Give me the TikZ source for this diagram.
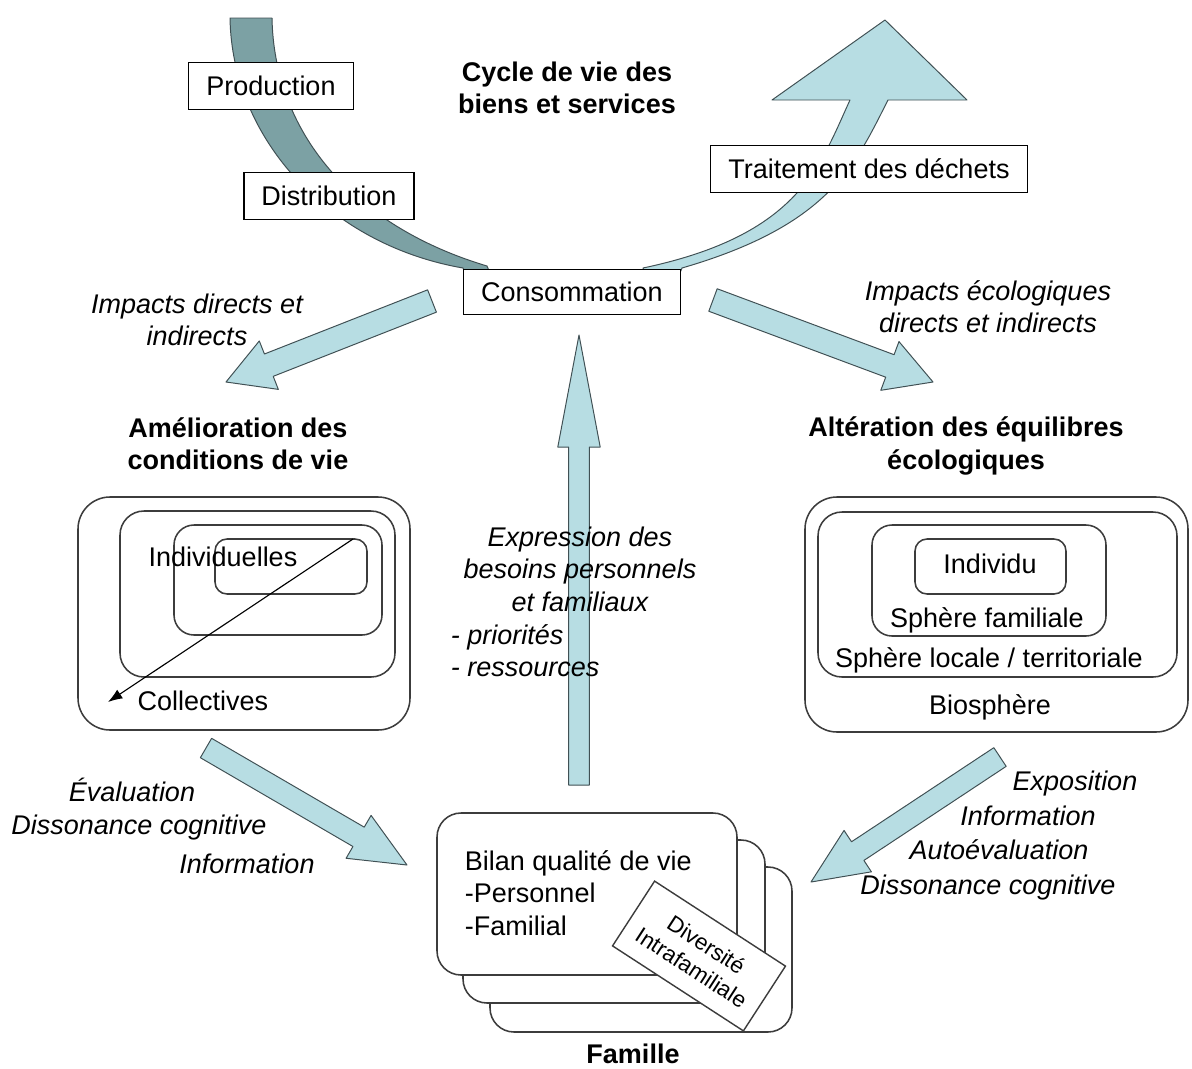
\documentclass[tikz,border=0pt]{standalone}
\usepackage{fontspec}
\setmainfont{Liberation Sans}
\usetikzlibrary{arrows.meta,calc,positioning}
\definecolor{cyclelight}{RGB}{183,221,227}
\definecolor{cycledark}{RGB}{124,161,164}
\definecolor{arrowedge}{RGB}{64,80,84}
\definecolor{frameline}{RGB}{60,60,60}
\newcommand{\diagfont}{\fontsize{19.2}{23}\selectfont}
\newcommand{\fatarrow}[5]{%
  \filldraw[fatarrow] ($(#1)!#3!90:(#2)$) -- ($(#2)!#5!(#1)!#3!-90:(#1)$)
    -- ($(#2)!#5!(#1)!#4!-90:(#1)$) -- (#2) -- ($(#2)!#5!(#1)!#4!90:(#1)$)
    -- ($(#2)!#5!(#1)!#3!90:(#1)$) -- ($(#1)!#3!-90:(#2)$) -- cycle;}
\tikzset{
  cyclebox/.style={draw,fill=white,line width=0.9pt,inner xsep=0.44cm,minimum height=1.18cm},
  fatarrow/.style={fill=cyclelight,draw=arrowedge,line width=0.7pt,line join=round},
  band/.style={draw=arrowedge,line width=0.7pt,line join=round},
  sphere/.style={draw=frameline,line width=1.1pt,rounded corners=#1},
  sphere/.default=0.5cm,
  famcard/.style={draw=frameline,fill=white,line width=1.1pt,rounded corners=0.6cm},
  title/.style={font=\diagfont\bfseries,align=center},
  note/.style={font=\diagfont\itshape,align=center}
}

\begin{document}
\begin{tikzpicture}[x=0.025cm,y=-0.025cm,>=Latex,font=\diagfont]
    \useasboundingbox (0,0) rectangle (1192,1068);
    \filldraw[band,fill=cycledark] (230,18) .. controls (232,140) and (330,245) .. (463,268)
      -- (470,285) -- (495,285) -- (487,266) .. controls (350,225) and (274,130) .. (272,18) -- cycle;
    \filldraw[band,fill=cyclelight] (643,268) .. controls (800,235) and (820,165) .. (850,100)
      -- (772,100) -- (885,20) -- (967,100) -- (888,100)
      .. controls (855,165) and (830,225) .. (682,268) -- (675,285) -- (648,285) -- cycle;
    \node[cyclebox] (prod) at (271,86) {Production};
    \node[cyclebox] (distr) at (329,196) {Distribution};
    \node[cyclebox] (waste) at (869,169) {Traitement des déchets};
    \node[cyclebox,minimum height=1.12cm] (conso) at (572,292) {Consommation};
    \node[title] (cycle) at (567,88) {Cycle de vie des\\biens et services};

    \coordinate (impLtail) at (432,301);
    \coordinate (impLtip) at (226,382);
    \coordinate (impRtail) at (713,300);
    \coordinate (impRtip) at (933,382);
    \coordinate (needtail) at (579,785);
    \coordinate (needtip) at (579,335);
    \coordinate (evalLtail) at (206,748);
    \coordinate (evalLtip) at (407,865);
    \coordinate (evalRtail) at (1000,757);
    \coordinate (evalRtip) at (811,882);
    \fatarrow{impLtail}{impLtip}{0.3cm}{0.65cm}{1.15cm}
    \fatarrow{impRtail}{impRtip}{0.3cm}{0.65cm}{1.15cm}
    \fatarrow{needtail}{needtip}{0.26cm}{0.53cm}{2.8cm}
    \fatarrow{evalLtail}{evalLtip}{0.28cm}{0.62cm}{1.4cm}
    \fatarrow{evalRtail}{evalRtip}{0.28cm}{0.62cm}{1.4cm}

    \node[note] (impactsL) at (197,320) {Impacts directs et\\indirects};
    \node[note] (impactsR) at (988,307) {Impacts écologiques\\directs et indirects};
    \node[title] (amelio) at (238,444) {Amélioration des\\conditions de vie};
    \node[title] (alter) at (966,446) {Altération des équilibres\\écologiques};

    \draw[sphere=0.8cm] (78,497) rectangle (410,730);
    \draw[sphere=0.6cm] (120,511) rectangle (395,677);
    \draw[sphere=0.5cm] (174,525) rectangle (382,635);
    \draw[sphere=0.3cm] (215,539) rectangle (367,594);
    \node (indiv) at (223,557) {Individuelles};
    \node (collect) at (203,701) {Collectives};
    \coordinate (scaleA) at (353,539);
    \coordinate (scaleB) at (108,702);
    \draw[-{Latex[length=0.36cm,width=0.26cm]},line width=0.8pt] (scaleA) -- (scaleB);

    \draw[sphere=0.8cm] (805,497) rectangle (1188,732);
    \draw[sphere=0.6cm] (818,512) rectangle (1177,677);
    \draw[sphere=0.5cm] (872,525) rectangle (1106,636);
    \draw[sphere=0.3cm] (915,539) rectangle (1066,594);
    \node (individu) at (990,564) {Individu};
    \node (famsph) at (987,620) {Sphère familiale};
    \node (locsph) at (989,660) {Sphère locale / territoriale};
    \node (biosph) at (990,707) {Biosphère};

    \node[note] (needs) at (580,569) {Expression des\\besoins personnels\\et familiaux};
    \node[note,align=left,anchor=west] (prio) at (446,651) {- priorités\\- ressources};

    \node[note] (evalL) at (132,790) {Évaluation};
    \node[note] (dissL) at (139,828) {Dissonance cognitive};
    \node[note] (infoL) at (247,864) {Information};
    \node[note] (expo) at (1075,784) {Exposition};
    \node[note] (infoR) at (1028,816) {Information};
    \node[note] (autoev) at (999,850) {Autoévaluation};
    \node[note] (dissR) at (988,888) {Dissonance cognitive};

    \draw[famcard] (490,867) rectangle (792,1032);
    \draw[famcard] (463,840) rectangle (765,1003);
    \draw[famcard] (437,813) rectangle (737,975);
    \node[align=left,anchor=west] (bilan) at (460,893) {Bilan qualité de vie\\-Personnel\\-Familial};
    \node[draw=frameline,fill=white,line width=1pt,rotate=-33,minimum width=3.9cm,minimum height=1.93cm,
      align=center,font=\fontsize{16}{19.5}\selectfont] (divers) at (699,956) {Diversité\\Intrafamiliale};
    \node[title,inner sep=1pt] (famille) at (633,1054) {Famille};
  \end{tikzpicture}
\end{document}
